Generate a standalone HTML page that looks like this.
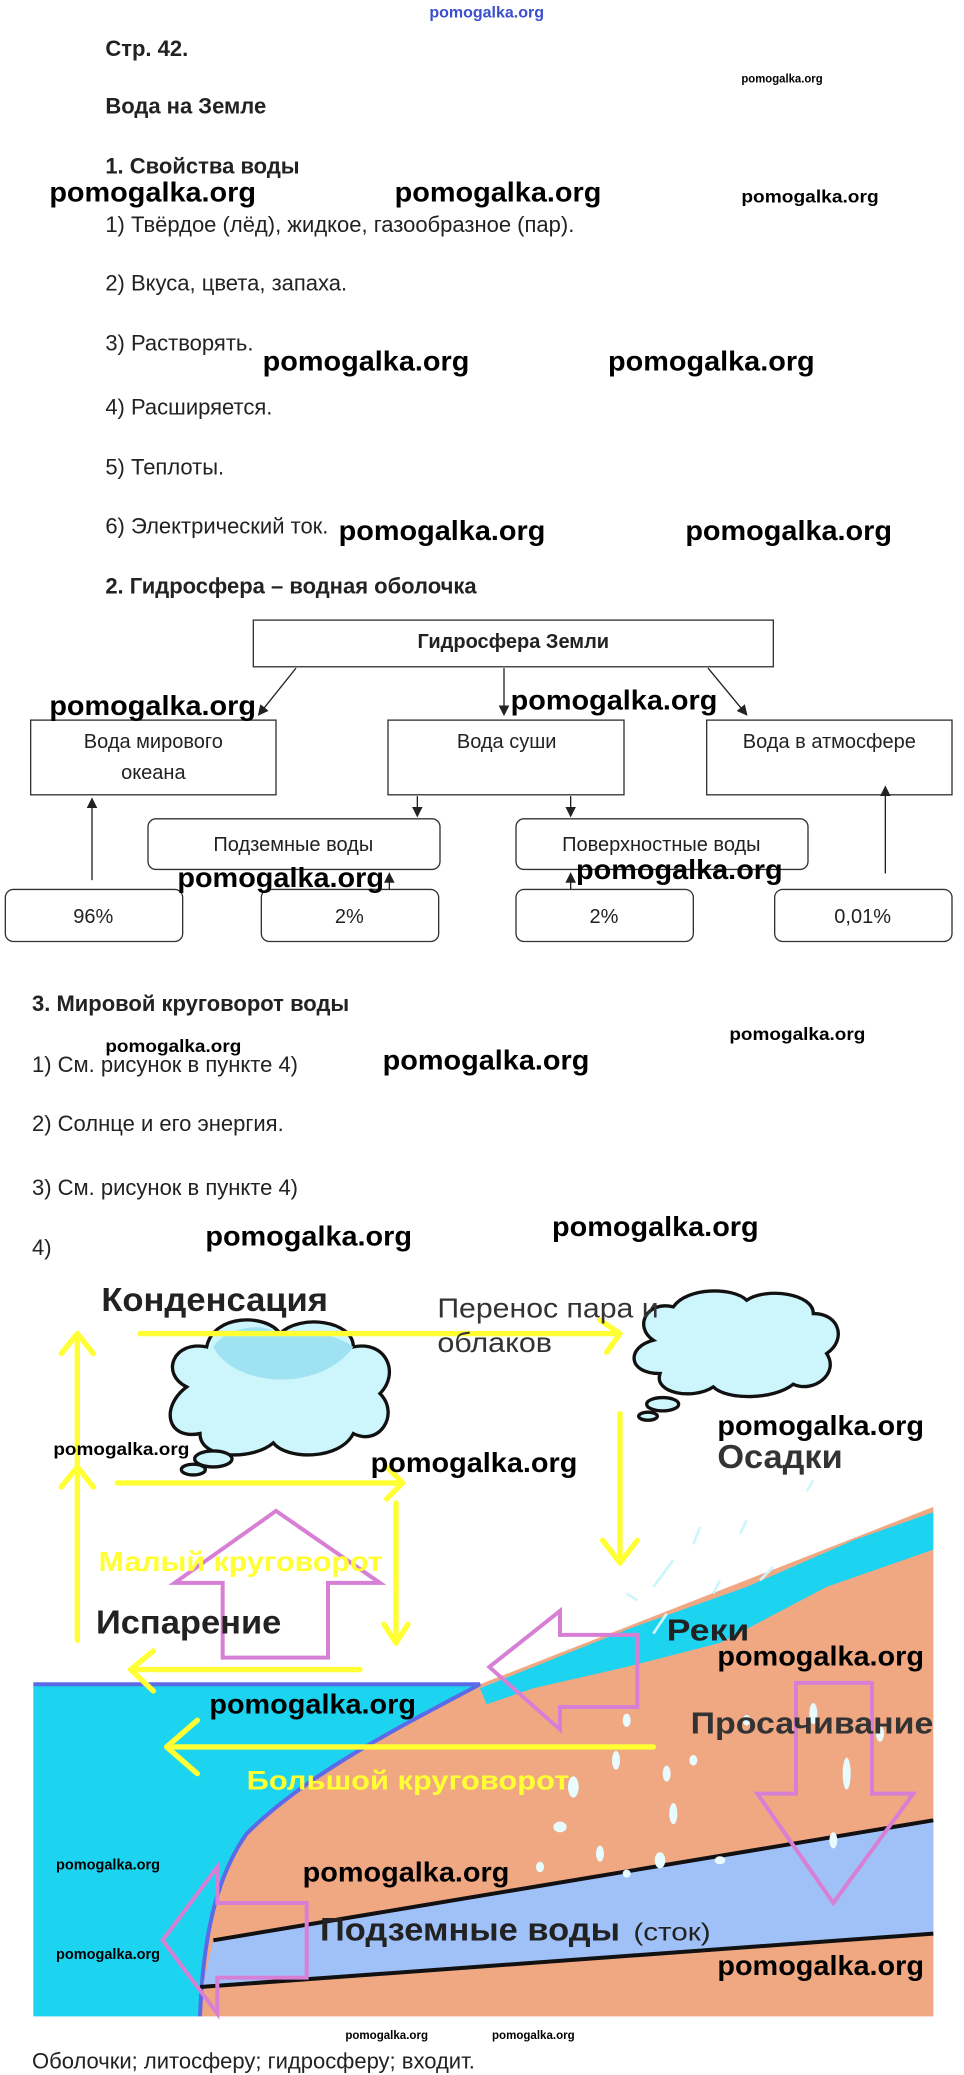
<!DOCTYPE html>
<html><head><meta charset="utf-8"><style>
html,body{margin:0;padding:0;background:#fff}
svg{display:block}
text{font-family:"Liberation Sans",Arial,sans-serif}
.b{font-weight:bold}
.wm{font-weight:bold;font-size:21px;fill:#000}
.ws{font-weight:bold;font-size:12px;fill:#000}
.t{font-size:16.5px;fill:#222}
.h{font-size:16.5px;font-weight:bold;fill:#222}
.bx{fill:#fff;stroke:#333;stroke-width:1}
.ln{stroke:#222;stroke-width:1;fill:none}
.yl{stroke:#ffff33;stroke-width:4;fill:none;stroke-linecap:round;stroke-linejoin:round}
.pk{stroke:#d77fd5;stroke-width:3;fill:none}
</style></head><body>
<svg width="964" height="2075" viewBox="0 0 723 1556" preserveAspectRatio="none" xmlns="http://www.w3.org/2000/svg">
<defs><marker id="ah" markerWidth="8" markerHeight="8" refX="7" refY="4" orient="auto"><path d="M0,0 L8,4 L0,8 z" fill="#222"/></marker></defs>
<text x="365" y="13" text-anchor="middle" style="font-size:12px;font-weight:bold;fill:#3a4fd0">pomogalka.org</text>
<text class="h" x="79" y="42">Стр. 42.</text>
<text class="ws" x="556" y="62" style="font-size:9px" textLength="61" lengthAdjust="spacingAndGlyphs">pomogalka.org</text>
<text class="h" x="79" y="85">Вода на Земле</text>
<text class="h" x="79" y="130">1. Свойства воды</text>
<text class="wm" x="37" y="151" textLength="155" lengthAdjust="spacingAndGlyphs">pomogalka.org</text>
<text class="wm" x="296" y="151" textLength="155" lengthAdjust="spacingAndGlyphs">pomogalka.org</text>
<text class="ws" x="556" y="152" style="font-size:13px" textLength="103" lengthAdjust="spacingAndGlyphs">pomogalka.org</text>
<text class="t" x="79" y="174">1) Твёрдое (лёд), жидкое, газообразное (пар).</text>
<text class="t" x="79" y="218">2) Вкуса, цвета, запаха.</text>
<text class="t" x="79" y="263">3) Растворять.</text>
<text class="wm" x="197" y="278" textLength="155" lengthAdjust="spacingAndGlyphs">pomogalka.org</text>
<text class="wm" x="456" y="278" textLength="155" lengthAdjust="spacingAndGlyphs">pomogalka.org</text>
<text class="t" x="79" y="311">4) Расширяется.</text>
<text class="t" x="79" y="356">5) Теплоты.</text>
<text class="t" x="79" y="400">6) Электрический ток.</text>
<text class="wm" x="254" y="405" textLength="155" lengthAdjust="spacingAndGlyphs">pomogalka.org</text>
<text class="wm" x="514" y="405" textLength="155" lengthAdjust="spacingAndGlyphs">pomogalka.org</text>
<text class="h" x="79" y="445">2. Гидросфера – водная оболочка</text>

<rect class="bx" x="190" y="465" width="390" height="35"/>
<text x="385" y="486" text-anchor="middle" class="h" style="font-size:15px">Гидросфера Земли</text>
<line class="ln" x1="222" y1="501" x2="194" y2="536" marker-end="url(#ah)"/>
<line class="ln" x1="378" y1="501" x2="378" y2="536" marker-end="url(#ah)"/>
<line class="ln" x1="531" y1="501" x2="560" y2="536" marker-end="url(#ah)"/>
<rect class="bx" x="23" y="540" width="184" height="56"/>
<text class="t" x="115" y="561" text-anchor="middle" style="font-size:15px">Вода мирового</text>
<text class="t" x="115" y="584" text-anchor="middle" style="font-size:15px">океана</text>
<rect class="bx" x="291" y="540" width="177" height="56"/>
<text class="t" x="380" y="561" text-anchor="middle" style="font-size:15px">Вода суши</text>
<rect class="bx" x="530" y="540" width="184" height="56"/>
<text class="t" x="622" y="561" text-anchor="middle" style="font-size:15px">Вода в атмосфере</text>
<line class="ln" x1="313" y1="597" x2="313" y2="612" marker-end="url(#ah)"/>
<line class="ln" x1="428" y1="597" x2="428" y2="612" marker-end="url(#ah)"/>
<rect class="bx" x="111" y="614" width="219" height="38" rx="6"/>
<text class="t" x="220" y="638" text-anchor="middle" style="font-size:15px">Подземные воды</text>
<rect class="bx" x="387" y="614" width="219" height="38" rx="6"/>
<text class="t" x="496" y="638" text-anchor="middle" style="font-size:15px">Поверхностные воды</text>
<rect class="bx" x="4" y="667" width="133" height="39" rx="6"/>
<text class="t" x="70" y="692" text-anchor="middle" style="font-size:15px">96%</text>
<rect class="bx" x="196" y="667" width="133" height="39" rx="6"/>
<text class="t" x="262" y="692" text-anchor="middle" style="font-size:15px">2%</text>
<rect class="bx" x="387" y="667" width="133" height="39" rx="6"/>
<text class="t" x="453" y="692" text-anchor="middle" style="font-size:15px">2%</text>
<rect class="bx" x="581" y="667" width="133" height="39" rx="6"/>
<text class="t" x="647" y="692" text-anchor="middle" style="font-size:15px">0,01%</text>
<line class="ln" x1="69" y1="660" x2="69" y2="599" marker-end="url(#ah)"/>
<line class="ln" x1="292" y1="667" x2="292" y2="655" marker-end="url(#ah)"/>
<line class="ln" x1="428" y1="667" x2="428" y2="655" marker-end="url(#ah)"/>
<line class="ln" x1="664" y1="655" x2="664" y2="590" marker-end="url(#ah)"/>
<text class="wm" x="37" y="536" textLength="155" lengthAdjust="spacingAndGlyphs">pomogalka.org</text>
<text class="wm" x="383" y="532" textLength="155" lengthAdjust="spacingAndGlyphs">pomogalka.org</text>
<text class="wm" x="133" y="665" textLength="155" lengthAdjust="spacingAndGlyphs">pomogalka.org</text>
<text class="wm" x="432" y="659" textLength="155" lengthAdjust="spacingAndGlyphs">pomogalka.org</text>

<text class="h" x="24" y="758">3. Мировой круговорот воды</text>
<text class="ws" x="79" y="789" style="font-size:13px" textLength="102" lengthAdjust="spacingAndGlyphs">pomogalka.org</text>
<text class="ws" x="547" y="780" style="font-size:13px" textLength="102" lengthAdjust="spacingAndGlyphs">pomogalka.org</text>
<text class="t" x="24" y="804">1) См. рисунок в пункте 4)</text>
<text class="wm" x="287" y="802" textLength="155" lengthAdjust="spacingAndGlyphs">pomogalka.org</text>
<text class="t" x="24" y="848">2) Солнце и его энергия.</text>
<text class="t" x="24" y="896">3) См. рисунок в пункте 4)</text>
<text class="t" x="24" y="941">4)</text>
<text class="wm" x="154" y="934" textLength="155" lengthAdjust="spacingAndGlyphs">pomogalka.org</text>
<text class="wm" x="414" y="927" textLength="155" lengthAdjust="spacingAndGlyphs">pomogalka.org</text>

<!-- picture -->
<polygon points="360,1263 700,1130 700,1512 150,1512 155,1440 180,1380 230,1330 300,1295" fill="#f0a882"/>
<path d="M25,1263 L360,1263 C300,1295 230,1330 185,1375 C160,1410 152,1460 150,1512 L25,1512 Z" fill="#1cd4f0"/>
<path d="M25,1263 L360,1263 C300,1295 230,1330 185,1375 C160,1410 152,1460 150,1512" fill="none" stroke="#5b6be8" stroke-width="3"/>
<path d="M360,1266 L470,1222 L560,1190 L640,1155 L700,1134 L700,1162 L620,1190 L540,1232 L470,1250 L400,1266 L365,1278 Z" fill="#1cd4f0"/>
<polygon points="160,1455 700,1365 700,1450 152,1490" fill="#a0c0f8"/>
<line x1="160" y1="1455" x2="700" y2="1365" stroke="#111" stroke-width="3"/>
<line x1="150" y1="1490" x2="700" y2="1450" stroke="#111" stroke-width="3"/>
<g fill="#e8fbff">
<ellipse cx="470" cy="1290" rx="3" ry="5"/><ellipse cx="430" cy="1340" rx="4" ry="8"/><ellipse cx="462" cy="1320" rx="3" ry="7"/><ellipse cx="500" cy="1330" rx="3" ry="6"/><ellipse cx="520" cy="1320" rx="3" ry="4"/><ellipse cx="505" cy="1360" rx="3" ry="8"/><ellipse cx="420" cy="1370" rx="5" ry="4"/><ellipse cx="450" cy="1390" rx="3" ry="6"/><ellipse cx="495" cy="1395" rx="4" ry="6"/><ellipse cx="540" cy="1395" rx="4" ry="3"/><ellipse cx="405" cy="1400" rx="3" ry="4"/><ellipse cx="470" cy="1405" rx="3" ry="3"/><ellipse cx="635" cy="1330" rx="3" ry="12"/><ellipse cx="610" cy="1285" rx="3" ry="8"/><ellipse cx="625" cy="1380" rx="3" ry="6"/><ellipse cx="660" cy="1300" rx="3" ry="6"/><ellipse cx="560" cy="1290" rx="3" ry="4"/>
</g>
<g stroke="#cdf6fc" stroke-width="2" fill="none"><line x1="505" y1="1170" x2="490" y2="1190"/><line x1="525" y1="1145" x2="520" y2="1158"/><line x1="500" y1="1210" x2="490" y2="1225"/><line x1="540" y1="1185" x2="535" y2="1195"/><line x1="580" y1="1175" x2="570" y2="1185"/><line x1="470" y1="1195" x2="478" y2="1200"/><line x1="560" y1="1140" x2="555" y2="1150"/><line x1="610" y1="1110" x2="605" y2="1118"/></g>

<!-- clouds -->
<g stroke="#111" stroke-width="2.5" fill="#ccf5fc">
<path d="M140,1040 C120,1030 130,1005 155,1010 C160,985 200,985 210,1000 C225,985 265,990 265,1010 C290,1005 300,1030 285,1045 C300,1060 285,1085 265,1075 C255,1095 215,1095 205,1082 C190,1095 150,1095 150,1075 C125,1080 120,1055 140,1040 Z"/>
<ellipse cx="160" cy="1094" rx="14" ry="6"/><ellipse cx="145" cy="1102" rx="9" ry="4"/>
<path d="M490,1005 C475,995 485,975 505,980 C515,965 550,965 560,975 C575,965 610,970 610,985 C630,985 635,1005 620,1015 C630,1030 610,1045 595,1038 C580,1050 545,1050 535,1040 C520,1050 490,1045 495,1030 C470,1030 470,1010 490,1005 Z"/>
<ellipse cx="497" cy="1053" rx="12" ry="5"/><ellipse cx="486" cy="1062" rx="7" ry="3"/>
</g>
<path d="M160,1010 C175,1040 240,1045 265,1010 C245,995 215,1000 210,1002 C200,990 170,995 160,1010 Z" fill="#9fe2f2"/>

<!-- yellow arrows -->
<g class="yl">
<line x1="105" y1="1000" x2="465" y2="1000"/><polyline points="450,990 465,1000 455,1014"/>
<line x1="58" y1="1230" x2="58" y2="1000"/><polyline points="46,1015 58,1000 70,1015"/><polyline points="46,1115 58,1100 70,1115"/>
<line x1="88" y1="1112" x2="300" y2="1112"/><polyline points="290,1100 302,1112 290,1124"/>
<line x1="297" y1="1127" x2="297" y2="1232"/><polyline points="288,1218 297,1232 306,1218"/>
<line x1="465" y1="1060" x2="465" y2="1172"/><polyline points="452,1155 465,1172 478,1155"/>
<line x1="270" y1="1252" x2="98" y2="1252"/><polyline points="115,1238 98,1252 115,1268"/>
<line x1="490" y1="1310" x2="125" y2="1310"/><polyline points="148,1290 125,1310 148,1330"/>
</g>

<!-- pink arrows -->
<polygon class="pk" points="167,1243 246,1243 246,1187 285,1187 207,1133 131,1187 167,1187"/>
<polygon class="pk" points="478,1226 420,1226 420,1208 367,1250 420,1297 420,1280 478,1280"/>
<polygon class="pk" points="597,1262 654,1262 654,1345 685,1345 625,1427 568,1345 597,1345"/>
<polygon class="pk" points="230,1427 163,1427 163,1400 122,1455 163,1510 163,1483 230,1483"/>

<text x="76" y="983" class="b" style="font-size:25px;fill:#222" textLength="170" lengthAdjust="spacingAndGlyphs">Конденсация</text>
<text x="328" y="988" style="font-size:21px;fill:#333" textLength="166" lengthAdjust="spacingAndGlyphs">Перенос пара и</text>
<text x="328" y="1014" style="font-size:21px;fill:#333" textLength="86" lengthAdjust="spacingAndGlyphs">облаков</text>
<text x="74" y="1178" class="b" style="font-size:21px;fill:#ffff33" textLength="213" lengthAdjust="spacingAndGlyphs">Малый круговорот</text>
<text x="72" y="1225" class="b" style="font-size:25px;fill:#222" textLength="139" lengthAdjust="spacingAndGlyphs">Испарение</text>
<text x="538" y="1101" class="b" style="font-size:25px;fill:#333" textLength="94" lengthAdjust="spacingAndGlyphs">Осадки</text>
<text x="500" y="1230" class="b" style="font-size:23px;fill:#222" textLength="62" lengthAdjust="spacingAndGlyphs">Реки</text>
<text x="518" y="1300" class="b" style="font-size:23px;fill:#333" textLength="182" lengthAdjust="spacingAndGlyphs">Просачивание</text>
<text x="185" y="1342" class="b" style="font-size:20px;fill:#ffff33" textLength="242" lengthAdjust="spacingAndGlyphs">Большой круговорот</text>
<text x="240" y="1455" class="b" style="font-size:24px;fill:#222" textLength="225" lengthAdjust="spacingAndGlyphs">Подземные воды</text>
<text x="475" y="1455" style="font-size:19px;fill:#222" textLength="58" lengthAdjust="spacingAndGlyphs">(сток)</text>

<text class="ws" x="40" y="1091" style="font-size:13px" textLength="102" lengthAdjust="spacingAndGlyphs">pomogalka.org</text>
<text class="wm" x="278" y="1104" textLength="155" lengthAdjust="spacingAndGlyphs">pomogalka.org</text>
<text class="wm" x="538" y="1076" textLength="155" lengthAdjust="spacingAndGlyphs">pomogalka.org</text>
<text class="wm" x="538" y="1249" textLength="155" lengthAdjust="spacingAndGlyphs">pomogalka.org</text>
<text class="wm" x="157" y="1285" textLength="155" lengthAdjust="spacingAndGlyphs">pomogalka.org</text>
<text class="ws" x="42" y="1402" style="font-size:11px" textLength="78" lengthAdjust="spacingAndGlyphs">pomogalka.org</text>
<text class="wm" x="227" y="1411" textLength="155" lengthAdjust="spacingAndGlyphs">pomogalka.org</text>
<text class="ws" x="42" y="1469" style="font-size:11px" textLength="78" lengthAdjust="spacingAndGlyphs">pomogalka.org</text>
<text class="wm" x="538" y="1481" textLength="155" lengthAdjust="spacingAndGlyphs">pomogalka.org</text>

<text class="ws" x="259" y="1529" style="font-size:9px" textLength="62" lengthAdjust="spacingAndGlyphs">pomogalka.org</text>
<text class="ws" x="369" y="1529" style="font-size:9px" textLength="62" lengthAdjust="spacingAndGlyphs">pomogalka.org</text>
<text class="t" x="24" y="1551">Оболочки; литосферу; гидросферу; входит.</text>
</svg>
</body></html>
